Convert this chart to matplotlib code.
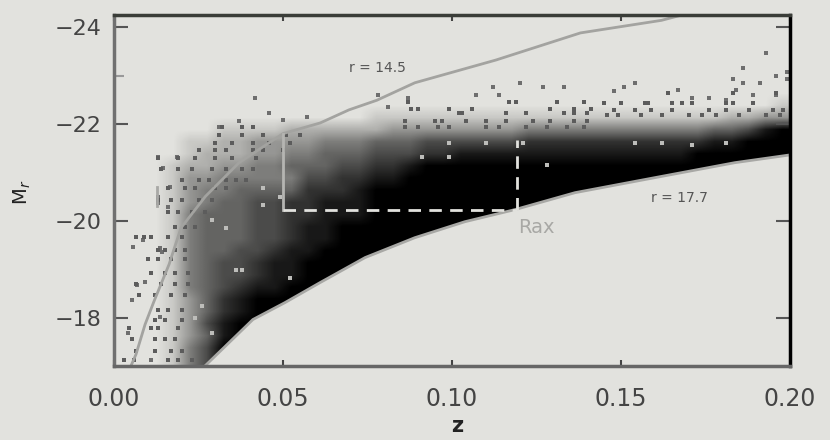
"""
Redshift vs absolute magnitude, flux limited galaxy sample
Density table and dots are read by eye from the picture
"""

import matplotlib
matplotlib.use('Agg')
import matplotlib.pyplot as plt
import numpy as np
from matplotlib.colors import LinearSegmentedColormap
from matplotlib.path import Path
from matplotlib.patches import PathPatch

BG = '#e2e2de'

# darkness 0-9 per cell, one string per magnitude row, z step 0.005
density_rows = [
    "0000000000000000000000000000000000000000",
    "0000000000000000000000000000000000000000",
    "0000000000000000000000000000000000000001",
    "0000000000000001111111111111111111112233",
    "0000001111222222333333334444444444455689",
    "0000112233334445556666667777777777788999",
    "0000122233445556667788888888888888999999",
    "0001223344555667789999999999999999999999",
    "0001334444466778899999999999999999999999",
    "0001344555577789999999999999999999999999",
    "0001345566778889999999999999999999999999",
    "0001455566778889999999999999999999999999",
    "0001455566788999999999999999999999999999",
    "0001455566788999999999999999999999999999",
    "0001455667889999999999999999999999999999",
    "0001456678899999999999999999999999999999",
    "0001456678899999999999999999999999999999",
    "0001456788999999999999999999999999999999",
    "0001357899999999999999999999999999999999",
    "0001357899999999999999999999999999999999",
    "0001368999999999999999999999999999999999",
    "0001358999999999999999999999999999999999",
    "0001469999999999999999999999999999999999",
    "0001469999999999999999999999999999999999",
]
density_zmin, density_zmax = 0.0, 0.20
density_mtop, density_mbottom = -23.0, -17.0

# sparse galaxies outside the dense cloud
outlier_z = [.0417, .046, .037, .031, .05, .057, .078, .087, .081, .112, .12, .127, .133, .148,
             .151, .154, .107, .114, .167, .193, .186, .199, .199, .183, .191, .186, .196, .189,
             .184, .196, .181, .171, .176, .013, .0145, .0186, .013, .013, .0166, .016, .0086,
             .0056, .0068, .0092, .011, .0136, .0142, .003, .0053, .004, .011, .011, .0136]
outlier_m = [-22.54, -22.23, -22.06, -21.94, -22.08, -22.14, -22.6, -22.54, -22.35, -22.76, -22.85,
             -22.76, -22.76, -22.68, -22.76, -22.85, -22.6, -22.6, -22.7, -23.46, -23.15, -23.07,
             -22.93, -22.93, -22.85, -22.85, -23.0, -22.6, -22.7, -22.6, -22.5, -22.54, -22.54,
             -21.32, -21.09, -21.32, -20.5, -20.37, -20.7, -20.29, -19.6, -19.46, -18.68, -18.74,
             -18.93, -19.44, -19.36, -17.13, -18.37, -17.69, -17.79, -17.13, -18.02]

# more dots, one magnitude per band with the z of each dot in it
band_m = [-22.64, -22.45, -22.43, -22.3, -22.29, -22.22, -22.19, -22.07, -21.94, -21.94, -21.77,
          -21.61, -21.46, -21.3, -21.07, -20.85, -20.68, -20.43, -20.19, -19.88, -19.67, -19.4,
          -19.2, -18.93, -18.7, -18.47, -18.16, -17.96, -17.79, -17.55, -17.3, -17.13]
band_z = [
    [.164, .183, .196],
    [.087, .117, .119, .131, .139],
    [.145, .15, .157, .158, .165, .168, .171, .181, .183, .189],
    [.088, .09, .099, .106, .129, .136, .141],
    [.148, .154, .159, .165, .176, .181, .188, .195, .198],
    [.102, .103, .116, .122, .133, .136, .14],
    [.146, .149, .156, .162, .17, .174, .178, .185, .193, .197],
    [.086, .095, .097, .104, .11, .116, .124, .129, .136, .14],
    [.086, .09, .096, .099, .11, .114, .122, .128, .134, .139],
    [.032, .038, .041],
    [.031, .038, .044, .051, .055],
    [.03, .035, .041, .046, .052],
    [.025, .03, .033, .041, .044, .05],
    [.013, .019, .024, .03, .035, .042],
    [.014, .019, .023, .029, .033, .038, .041],
    [.02, .025, .028, .033, .036, .039],
    [.016, .021, .024, .03, .033],
    [.013, .017, .02, .025, .029],
    [.016, .019, .023, .027],
    [.018, .021, .024],
    [.0065, .009, .011, .016, .02],
    [.013, .015, .018, .021],
    [.01, .013, .017, .021],
    [.011, .015, .018, .022],
    [.0065, .014, .018, .022],
    [.0074, .012, .017, .021],
    [.013, .016, .02],
    [.012, .015, .02],
    [.0044, .011, .013, .019],
    [.0053, .012, .015, .018],
    [.0065, .012, .017, .02],
    [.003, .006, .016, .019, .023],
]

# pale gaps inside the dark cloud
gap_z = [.036, .038, .052, .026, .024, .029, .044, .099, .11, .121, .091, .099, .128, .154, .162,
         .171, .181, .029, .033, .044, .049]
gap_m = [-18.99, -18.99, -18.82, -18.23, -18.0, -17.69, -20.68, -21.61, -21.61, -21.61, -21.32,
         -21.32, -21.15, -21.61, -21.61, -21.57, -21.61, -20.02, -19.86, -20.33, -20.49]

# r = 14.5 limit
bright_z = [.005, .0065, .0092, .0118, .0163, .0198, .027, .037, .05, .061, .0695, .0778, .089,
            .113, .138, .162, .168]
bright_m = [-17.0, -17.24, -17.86, -18.33, -19.1, -19.85, -20.5, -21.2, -21.8, -22.02, -22.29,
            -22.49, -22.85, -23.32, -23.88, -24.14, -24.25]

# r = 17.7 limit
faint_z = [.0269, .0411, .0506, .0609, .0743, .089, .1038, .1186, .1364, .16, .1837, .2]
faint_m = [-17.0, -17.96, -18.31, -18.72, -19.24, -19.65, -19.98, -20.23, -20.58, -20.89, -21.2, -21.36]

# volume limited box
zmin_box, zmax_box = 0.05, 0.1192
m_box, m_top_left, m_top_right = -20.23, -21.8, -21.67

x_ticks = [0.0, 0.05, 0.10, 0.15, 0.20]
x_ticklabels = ['0.00', '0.05', '0.10', '0.15', '0.20']
y_ticks = [-24, -22, -20, -18]
y_ticklabels = ['\u221224', '\u221222', '\u221220', '\u221218']

fig = plt.figure(figsize=(8.3, 4.4), dpi=100)
fig.patch.set_facecolor(BG)
ax = fig.add_axes([114 / 830, 1 - 366 / 440, 676 / 830, 351 / 440])
ax.set_facecolor(BG)

cmap = LinearSegmentedColormap.from_list('cloud', [BG, '#000000'])
grid = np.array([[int(c) for c in row] for row in density_rows])
im = ax.imshow(grid, cmap=cmap, vmin=0, vmax=9, aspect='auto', interpolation='bilinear',
               extent=[density_zmin, density_zmax, density_mbottom, density_mtop], zorder=1)

# nothing fainter than the flux limit
clip_verts = [(0.0, -17.0), (0.0, -24.25), (0.2, -24.25)] + list(zip(faint_z[::-1], faint_m[::-1])) + [(0.0, -17.0)]
clip = PathPatch(Path(clip_verts), transform=ax.transData, facecolor='none', edgecolor='none')
ax.add_patch(clip)
im.set_clip_path(clip)

ax.scatter(outlier_z, outlier_m, s=7, marker='s', color='#6e6e6e', linewidths=0, zorder=2)
for m, zs in zip(band_m, band_z):
    ax.scatter(zs, [m] * len(zs), s=8, marker='s', color='#5c5c5c', linewidths=0, zorder=2)
ax.scatter(gap_z, gap_m, s=7, marker='s', color='#bdbdba', linewidths=0, zorder=2)

ax.plot(bright_z, bright_m, color='#a3a3a0', lw=2, zorder=3)
ax.plot(faint_z, faint_m, color='#a8a8a5', lw=2, zorder=3)

ax.plot([zmin_box, zmin_box], [m_box, m_top_left], color='#b5b5b2', lw=2, zorder=4)
ax.plot([.0127, .0127], [-20.3, -20.7], color='#a8a8a5', lw=2, zorder=4)
ax.plot([zmin_box, zmax_box], [m_box, m_box], color='#e2e2de', lw=2, dashes=(4.5, 3), zorder=4)
ax.plot([zmax_box, zmax_box], [m_box, m_top_right], color='#e2e2de', lw=2, dashes=(4.5, 3), zorder=4)

ax.text(0.0695, -23.15, 'r = 14.5', fontsize=10, color='#555555', va='center', zorder=5)
ax.text(0.159, -20.48, 'r = 17.7', fontsize=10, color='#555555', va='center', zorder=5)
ax.text(0.1195, -19.87, 'Rax', fontsize=14, color='#a8a8a5', va='center', zorder=5)

ax.set_xlim(0.0, 0.20)
ax.set_ylim(-17.0, -24.25)
ax.set_xticks(x_ticks)
ax.set_xticklabels(x_ticklabels, fontsize=17, color='#444444')
ax.set_yticks(y_ticks)
ax.set_yticklabels(y_ticklabels, fontsize=16, color='#444444')
ax.set_yticks([-23], minor=True)
ax.tick_params(axis='x', which='major', direction='in', top=True, length=4, width=1.5, color='#444444', pad=15)
ax.tick_params(axis='y', which='major', direction='in', right=True, length=10, width=1.5, color='#555555', pad=9)
ax.tick_params(axis='y', which='minor', direction='in', length=7, width=1.5, color='#999999')

spine_colors = {'top': '#3a3d38', 'left': '#707070', 'bottom': '#666666', 'right': '#000000'}
for side, c in spine_colors.items():
    ax.spines[side].set_color(c)
    ax.spines[side].set_linewidth(2.5)
    ax.spines[side].set_zorder(6)

fig.text(457 / 830, 1 - 426 / 440, 'z', fontsize=15, fontweight='bold', color='#222222', ha='center', va='center')
fig.text(22 / 830, 1 - 192 / 440, 'M$_r$', fontsize=14, color='#222222', rotation=90, ha='center', va='center')

plt.savefig('out.png', dpi=100, facecolor=fig.get_facecolor())
plt.close()
